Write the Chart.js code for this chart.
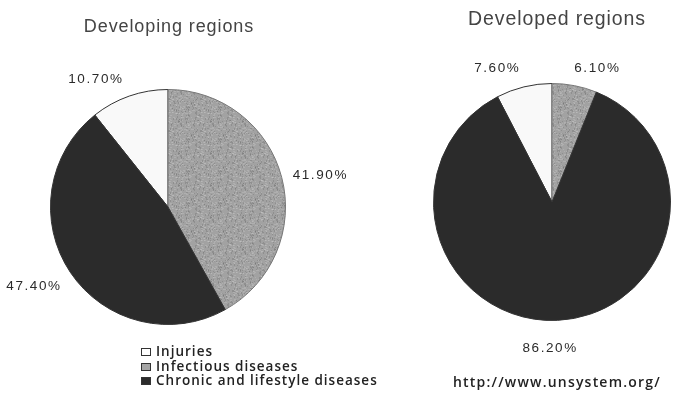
<!DOCTYPE html>
<html>
<head>
<meta charset="utf-8">
<script src="https://cdn.jsdelivr.net/npm/chart.js@4.4.1/dist/chart.umd.min.js"></script>
<style>
  html, body { margin: 0; padding: 0; background: #fff; }
  #wrap { position: relative; width: 679px; height: 408px; overflow: hidden; }
  .pie { position: absolute; top: 0; }
  #legend { position: absolute; left: 141px; top: 344px; font-family: "Open Sans", sans-serif; font-weight: 600; font-size: 13.5px; letter-spacing: 1px; color: #222; line-height: 14.5px; }
  #legend div { white-space: nowrap; }
  #legend span.sw { display: inline-block; width: 10px; height: 8px; margin-right: 5px; border: 1px solid #333; vertical-align: 0px; box-sizing: border-box; }
  #source { position: absolute; left: 453px; top: 372px; font-family: "Open Sans", sans-serif; font-weight: 600; font-size: 14px; letter-spacing: 1.2px; color: #222; }
</style>
</head>
<body>
<div id="wrap">
  <canvas id="left" class="pie" width="370" height="408" style="left:0;width:370px;height:408px"></canvas>
  <canvas id="right" class="pie" width="339" height="408" style="left:340px;width:339px;height:408px"></canvas>
  <div id="legend"></div>
  <div id="source">http://www.unsystem.org/</div>
</div>
<script>
// Causes of death, share of total (%)
const categories = ['Injuries', 'Infectious diseases', 'Chronic and lifestyle diseases'];
const developingValues = [10.7, 41.9, 47.4];
const developedValues = [7.6, 6.1, 86.2];
const developingLabels = ['10.70%', '41.90%', '47.40%'];
const developedLabels = ['7.60%', '6.10%', '86.20%'];
const chartTitles = ['Developing regions', 'Developed regions'];

// Speckled grey fill for the infectious-diseases slice
function speckle() {
  const t = document.createElement('canvas');
  t.width = 32; t.height = 32;
  const g = t.getContext('2d');
  g.fillStyle = '#a2a2a2';
  g.fillRect(0, 0, 32, 32);
  let s = 11;
  const next = () => { s = (s * 1103515245 + 12345) % 2147483648; return s / 2147483648; };
  for (let i = 0; i < 300; i++) {
    const x = Math.floor(next() * 32), y = Math.floor(next() * 32);
    const v = next();
    g.fillStyle = v < 0.5 ? 'rgba(110,110,110,0.35)' : 'rgba(200,200,200,0.35)';
    g.fillRect(x, y, 1 + (v > 0.7 ? 1 : 0), 1 + (v < 0.2 ? 1 : 0));
  }
  return g.createPattern(t, 'repeat');
}
const greyFill = speckle();
const fills = ['#f9f9f9', greyFill, '#2b2b2b'];
const swatch = ['#ffffff', '#a5a5a5', '#2b2b2b'];

// legend
const lg = document.getElementById('legend');
categories.forEach((c, i) => {
  const d = document.createElement('div');
  d.innerHTML = '<span class="sw" style="background:' + swatch[i] + '"></span>' + c;
  lg.appendChild(d);
});

// Percent labels placed just outside each slice
const outsideLabels = {
  id: 'outsideLabels',
  afterDatasetsDraw(chart, args, opts) {
    const ctx = chart.ctx;
    const meta = chart.getDatasetMeta(0);
    ctx.save();
    ctx.font = '13.5px "Liberation Sans", Arial, sans-serif';
    ctx.letterSpacing = '1.6px';
    ctx.fillStyle = '#2a2a2a';
    ctx.textAlign = 'center';
    ctx.textBaseline = 'middle';
    meta.data.forEach((arc, i) => {
      const p = arc.getProps(['x', 'y', 'startAngle', 'endAngle', 'outerRadius'], true);
      const mid = (p.startAngle + p.endAngle) / 2;
      const text = opts.labels[i];
      const w = ctx.measureText(text).width, h = 14;
      const r = p.outerRadius + 10;
      const cx = p.x + Math.cos(mid) * (r + w / 2 * Math.abs(Math.cos(mid)));
      const cy = p.y + Math.sin(mid) * (r + h / 2 * Math.abs(Math.sin(mid)));
      const n = opts.nudge[i] || [0, 0];
      ctx.fillText(text, cx + n[0], cy + n[1]);
    });
    ctx.restore();
  }
};

function makePie(id, values, labels, title, pad, nudge) {
  const total = values.reduce((a, b) => a + b, 0);
  return new Chart(document.getElementById(id), {
    type: 'pie',
    data: {
      labels: categories,
      datasets: [{
        data: values,
        backgroundColor: fills,
        borderColor: ['#333', '#777', '#333'],
        borderWidth: 1
      }]
    },
    options: {
      responsive: false,
      animation: false,
      // first slice ends at 12 o'clock
      rotation: -values[0] / total * 360,
      layout: { padding: { left: pad.left, right: pad.right, top: pad.top, bottom: pad.bottom } },
      plugins: {
        legend: { display: false },
        tooltip: { enabled: false },
        title: { display: false },
        outsideLabels: { labels: labels, nudge: nudge }
      }
    },
    plugins: [outsideLabels, {
      id: 'pieTitle',
      afterDraw(chart) {
        const ctx = chart.ctx;
        ctx.save();
        ctx.font = pad.titleSize + 'px "Liberation Sans", Arial, sans-serif';
        ctx.letterSpacing = '0.9px';
        ctx.fillStyle = '#444';
        ctx.textAlign = 'center';
        ctx.textBaseline = 'middle';
        ctx.fillText(title, pad.titleX, pad.titleY);
        ctx.restore();
      }
    }]
  });
}

makePie('left', developingValues, developingLabels, chartTitles[0],
  { left: 50, right: 84, top: 89, bottom: 83, titleX: 169, titleY: 27, titleSize: 18 },
  [[-27, -1], [3, 1], [-9, 6]]);
makePie('right', developedValues, developedLabels, chartTitles[1],
  { left: 93, right: 8, top: 83, bottom: 87, titleX: 217, titleY: 20, titleSize: 19.5 },
  [[-23, -2], [20, -1], [-8, 11]]);
</script>
</body>
</html>
